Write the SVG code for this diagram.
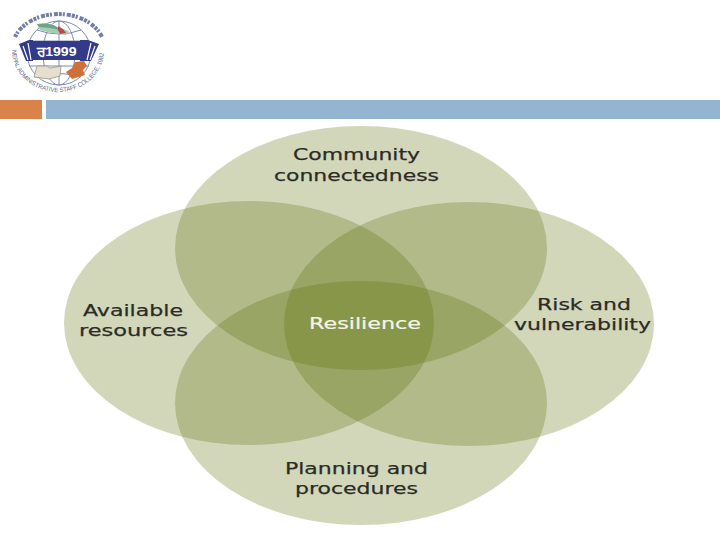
<svg xmlns="http://www.w3.org/2000/svg" width="720" height="540" viewBox="0 0 720 540">
<style>
.e{fill:#5c6f06;fill-opacity:.28}
.t,.w{font-family:"DejaVu Sans","Liberation Sans",sans-serif;font-size:16.5px;text-anchor:middle}
.t{fill:#2b2b26;stroke:#2b2b26;stroke-width:.25px}
.w{fill:#f4f5ea;stroke:#f4f5ea;stroke-width:.2px}
.g{fill:none;stroke:#7f8cae;stroke-width:1}
.l{font-family:"Liberation Sans",sans-serif;font-size:6.2px;fill:#56648f}
</style>
<defs>
<path id="arcB" d="M12 50 A46 42 0 0 0 104 50"/>
</defs>
<rect width="720" height="540" fill="#fff"/>
<g id="logo">
<circle class="g" cx="59" cy="53" r="32"/>
<ellipse class="g" cx="59" cy="53" rx="16" ry="32"/>
<path class="g" d="M29 41H89M29 66H89M37 30Q59 38 81 30M37 77Q59 70 81 77M59 21V85"/>
<path d="M15 37A46 34 0 0 1 102 37" fill="none" stroke="#4f5c8c" stroke-width="4" stroke-dasharray="3 1 2 2 4 1" opacity=".8"/>
<path d="M37 24Q50 22 57 27L69 31L66 35L52 33L40 30Z" fill="#a6cdb2"/>
<path d="M37 24Q50 22 57 27L60 30L50 28L39 27Z" fill="#6aa584"/>
<path d="M58 26L63 29L66 33L60 34L58 30Z" fill="#bb4a4e"/>
<path d="M19 44L29 40H33V61H26Z" fill="#343a8a"/>
<path d="M99 44L88 40H80V61H91Z" fill="#343a8a"/>
<path d="M23 46L28 60M28 43L31 60M91 43L87 60M95 46L90 60" stroke="#fff" stroke-width="1.2" fill="none"/>
<rect x="33" y="41" width="47" height="19" fill="#343a8a"/>
<text x="56.500" y="56" font-family="'Liberation Sans',sans-serif" font-size="13" font-weight="700" fill="#fff" text-anchor="middle" textLength="40" lengthAdjust="spacingAndGlyphs">ਰ1999</text>
<path d="M34 77L37 66L47 66L50 68L61 66L60 76L49 79Z" fill="#e6dfcf" stroke="#8c8674" stroke-width=".7"/>
<path d="M66 72L72 68L75 62L84 61L87 66L83 70L85 75L72 79Z" fill="#cf7038"/>
<text class="l"><textPath href="#arcB" textLength="135" lengthAdjust="spacingAndGlyphs">NEPAL ADMINISTRATIVE STAFF COLLEGE, 1982</textPath></text>
</g>
<rect x="0" y="100" width="42" height="19" fill="#d9824a"/>
<rect x="46" y="100" width="674" height="19" fill="#94b5d2"/>
<g id="venn">
<ellipse class="e" cx="361" cy="248" rx="186" ry="122"/>
<ellipse class="e" cx="249" cy="323" rx="185" ry="122"/>
<ellipse class="e" cx="469" cy="324" rx="185" ry="122"/>
<ellipse class="e" cx="361" cy="403" rx="186" ry="122"/>
</g>
<g id="community"><text class="t" x="356.500" y="160" textLength="127" lengthAdjust="spacingAndGlyphs">Community</text><text class="t" x="356.500" y="181" textLength="165" lengthAdjust="spacingAndGlyphs">connectedness</text></g>
<g id="available"><text class="t" x="133" y="316" textLength="100" lengthAdjust="spacingAndGlyphs">Available</text><text class="t" x="133.500" y="336" textLength="109" lengthAdjust="spacingAndGlyphs">resources</text></g>
<g id="risk"><text class="t" x="584" y="310" textLength="94" lengthAdjust="spacingAndGlyphs">Risk and</text><text class="t" x="582.500" y="330" textLength="137" lengthAdjust="spacingAndGlyphs">vulnerability</text></g>
<g id="resilience"><text class="w" x="365" y="329" textLength="112" lengthAdjust="spacingAndGlyphs">Resilience</text></g>
<g id="planning"><text class="t" x="356.500" y="474" textLength="143" lengthAdjust="spacingAndGlyphs">Planning and</text><text class="t" x="356.500" y="494" textLength="123" lengthAdjust="spacingAndGlyphs">procedures</text></g>
<g id="connectors"></g>
</svg>
